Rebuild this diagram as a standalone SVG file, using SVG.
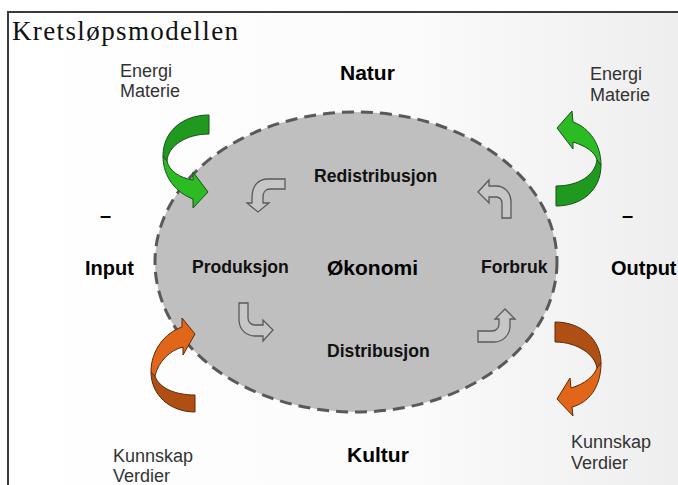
<svg xmlns="http://www.w3.org/2000/svg" width="678" height="485" viewBox="0 0 678 485">
  <defs>
    <linearGradient id="bg" x1="0" y1="0" x2="1" y2="0">
      <stop offset="0" stop-color="#ffffff"/>
      <stop offset="0.6" stop-color="#fbfbfb"/>
      <stop offset="1" stop-color="#eeeeee"/>
    </linearGradient>
  </defs>
  <style>
    .title { font-family: "Liberation Serif", "Times New Roman", serif; font-size: 27px; fill: #111; }
    .big { font-family: "Liberation Sans", Arial, sans-serif; font-weight: bold; font-size: 21px; fill: #000; }
    .side { font-family: "Liberation Sans", Arial, sans-serif; font-weight: bold; font-size: 20px; fill: #000; }
    .mid { font-family: "Liberation Sans", Arial, sans-serif; font-weight: bold; font-size: 17.6px; fill: #111; }
    .res { font-family: "Liberation Sans", Arial, sans-serif; font-size: 18px; fill: #333; }
    .green-dark { fill: #1f9a1f; stroke: #1a4f1a; stroke-width: 1; }
    .green-light { fill: #2dbb24; stroke: #1a4f1a; stroke-width: 1; }
    .orange-dark { fill: #b04f14; stroke: #5a2a0a; stroke-width: 1; }
    .orange-light { fill: #e2661a; stroke: #5a2a0a; stroke-width: 1; }
    .cycle { fill: #c6c6c6; stroke: #5a5a5a; stroke-width: 1.3; }
  </style>

  <!-- slide background and frame -->
  <rect x="0" y="0" width="678" height="485" fill="#ffffff"/>
  <rect x="8" y="12" width="670" height="473" fill="url(#bg)"/>
  <path d="M8,485 L8,12 L678,12" fill="none" stroke="#3a3a3a" stroke-width="2"/>

  <text class="title" x="12" y="40" textLength="226">Kretsløpsmodellen</text>

  <!-- economy ellipse -->
  <g id="okonomi">
    <ellipse cx="356" cy="262" rx="201" ry="150" fill="#bfbfbf" stroke="#595959" stroke-width="3" stroke-dasharray="12 7"/>
    <text class="big" x="327" y="275">Økonomi</text>
  </g>

  <!-- cycle stages inside the economy -->
  <g id="redistribusjon"><text class="mid" x="314" y="182">Redistribusjon</text></g>
  <g id="produksjon"><text class="mid" x="192" y="273">Produksjon</text></g>
  <g id="forbruk"><text class="mid" x="481" y="273">Forbruk</text></g>
  <g id="distribusjon"><text class="mid" x="327" y="357">Distribusjon</text></g>

  <!-- surroundings -->
  <g id="natur"><text class="big" x="340" y="80">Natur</text></g>
  <g id="kultur"><text class="big" x="347" y="462">Kultur</text></g>
  <g id="input">
    <text class="side" x="100" y="222">–</text>
    <text class="side" x="85" y="275">Input</text>
  </g>
  <g id="output">
    <text class="side" x="622" y="222">–</text>
    <text class="side" x="611" y="275">Output</text>
  </g>
  <g id="ressurser-inn">
    <text class="res" x="120" y="77">Energi</text>
    <text class="res" x="120" y="97">Materie</text>
  </g>
  <g id="ressurser-ut">
    <text class="res" x="590" y="80">Energi</text>
    <text class="res" x="590" y="101">Materie</text>
  </g>
  <g id="kunnskap-inn">
    <text class="res" x="113" y="462">Kunnskap</text>
    <text class="res" x="113" y="482">Verdier</text>
  </g>
  <g id="kunnskap-ut">
    <text class="res" x="571" y="448">Kunnskap</text>
    <text class="res" x="571" y="469">Verdier</text>
  </g>

  <!-- connectors -->
  <g id="connectors">
    <!-- energy/matter in (top left) -->
    <path class="green-dark" d="M209,115 C182,115 163,132 163,156 L167,161 C168,146 186,134 209,134 Z"/>
    <path class="green-light" d="M163,156 C163,178 177,193 193,199 L193,208 L208,192 L193,172 L193,180 C180,178 169,171 167,161 Z"/>
    <!-- energy/matter out (top right) -->
    <path class="green-dark" d="M556,206 C582,206 601,190 601,165 L597,160 C595,175 579,186 556,186 Z"/>
    <path class="green-light" d="M601,165 C601,145 590,128 573,122 L572,111 L557,128 L573,149 L573,142 C586,146 595,152 597,160 Z"/>
    <!-- knowledge/values in (bottom left) -->
    <path class="orange-light" d="M151,372 C151,350 165,333 182,327 L182,318 L195,334 L183,355 L183,347 C170,350 158,362 155,376 Z"/>
    <path class="orange-dark" d="M151,372 C151,395 170,412 195,412 L195,395 C175,395 159,388 155,376 Z"/>
    <!-- knowledge/values out (bottom right) -->
    <path class="orange-dark" d="M555,322 C582,322 601,340 601,363 L597,368 C595,355 578,342 555,342 Z"/>
    <path class="orange-light" d="M601,363 C601,388 588,403 572,407 L573,416 L557,399 L570,378 L571,388 C585,384 594,376 597,368 Z"/>

    <!-- internal cycle -->
    <path class="cycle" d="M285,179 L268,179 C257,179 252,187 252,198 L252,203 L247,203 L258,212 L269,203 L263,203 L263,197 C263,192 266,189 270,189 L285,189 Z"/>
    <path class="cycle" d="M239,303 L248,303 L248,318 C248,322 251,325 255,325 L263,325 L263,320 L273,330 L263,341 L263,336 L255,336 C246,336 239,329 239,320 Z"/>
    <path class="cycle" d="M478,331 L492,331 C496,331 499,328 499,324 L499,319 L495,319 L505,309 L515,319 L510,319 L510,326 C510,335 503,342 494,342 L478,342 Z"/>
    <path class="cycle" d="M478,192 L489,180 L489,186 L496,186 C505,186 511,193 511,202 L511,218 L502,218 L502,204 C502,200 500,197 496,197 L489,197 L489,203 Z"/>
  </g>
</svg>
